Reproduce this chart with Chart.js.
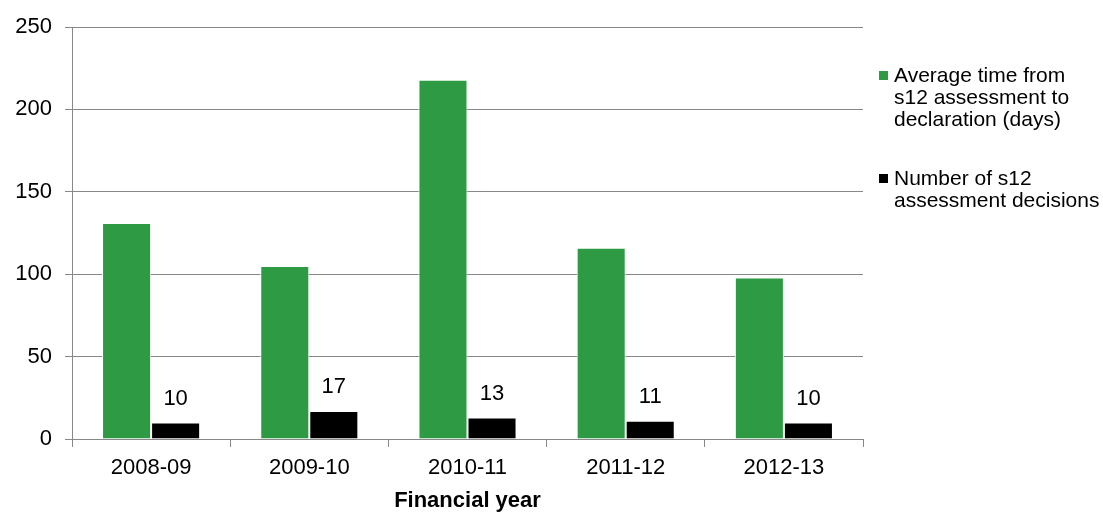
<!DOCTYPE html>
<html>
<head>
<meta charset="utf-8">
<title>s12 assessments by financial year</title>
<script src="https://cdn.jsdelivr.net/npm/chart.js@4/dist/chart.umd.min.js"></script>
<style>
  html, body { margin: 0; padding: 0; background: #fff; }
  #wrap { position: relative; width: 1103px; height: 514px; }
  #legend {
    position: absolute; left: 879px; top: 64px;
    font-family: "Liberation Sans", Arial, sans-serif;
    font-size: 21px; line-height: 22px; color: #000;
  }
  .item { display: flex; align-items: flex-start; margin-bottom: 37px; }
  .swatch { width: 9px; height: 9px; margin: 7px 6px 0 0; flex: none; }
</style>
</head>
<body>
<div id="wrap">
  <canvas id="chart" width="1103" height="514"></canvas>
  <div id="legend"></div>
</div>
<script>
const years = ["2008-09", "2009-10", "2010-11", "2011-12", "2012-13"];
const avgDays = [131, 105, 218, 116, 98];
const decisions = [10, 17, 13, 11, 10];
const yTicks = [0, 50, 100, 150, 200, 250];

const seriesNames = [
  ["Average time from", "s12 assessment to", "declaration (days)"],
  ["Number of s12", "assessment decisions"],
];
const seriesColors = ["#2e9a44", "#000000"];

const FONT = '"Liberation Sans", Arial, sans-serif';
const AXIS_GREY = "#888888";

// numbers above the black bars only
const valueLabels = {
  id: "valueLabels",
  afterDatasetsDraw(chart) {
    const { ctx } = chart;
    const meta = chart.getDatasetMeta(1);
    ctx.save();
    ctx.font = "22px " + FONT;
    ctx.fillStyle = "#000";
    ctx.textAlign = "center";
    ctx.textBaseline = "middle";
    meta.data.forEach((bar, i) => {
      ctx.fillText(String(decisions[i]), bar.x, bar.y - 24);
    });
    ctx.restore();
  },
};

function buildLegend() {
  const el = document.getElementById("legend");
  el.innerHTML = seriesNames
    .map((lines, i) =>
      `<div class="item"><span class="swatch" style="background:${seriesColors[i]}"></span>` +
      `<span>${lines.join("<br>")}</span></div>`)
    .join("");
}

const ctx = document.getElementById("chart").getContext("2d");

new Chart(ctx, {
  type: "bar",
  data: {
    labels: years,
    datasets: [
      {
        label: seriesNames[0].join(" "),
        data: avgDays,
        backgroundColor: seriesColors[0],
        borderColor: "#ffffff",
        borderWidth: 1,
        categoryPercentage: 0.62,
        barPercentage: 1.0,
      },
      {
        label: seriesNames[1].join(" "),
        data: decisions,
        backgroundColor: seriesColors[1],
        borderColor: "#ffffff",
        borderWidth: 1,
        categoryPercentage: 0.62,
        barPercentage: 1.0,
      },
    ],
  },
  options: {
    responsive: false,
    animation: false,
    layout: { padding: { top: 27, right: 240, left: 0, bottom: 0 } },
    plugins: {
      legend: { display: false },
      tooltip: { enabled: false },
    },
    scales: {
      x: {
        offset: true,
        grid: {
          offset: true,
          drawOnChartArea: false,
          tickLength: 8,
          color: AXIS_GREY,
        },
        border: { display: true, color: AXIS_GREY },
        ticks: {
          color: "#000",
          padding: 8,
          font: { family: FONT, size: 22 },
        },
        title: {
          display: true,
          text: "Financial year",
          color: "#000",
          font: { family: FONT, size: 22, weight: "bold" },
          padding: { top: 0, bottom: 0 },
        },
        afterFit(scale) { scale.height = 75; },
      },
      y: {
        min: 0,
        max: 250,
        afterBuildTicks(scale) {
          scale.ticks = yTicks.map((v) => ({ value: v }));
        },
        grid: { color: AXIS_GREY, tickLength: 7 },
        border: { display: true, color: AXIS_GREY },
        ticks: {
          color: "#000",
          padding: 13,
          font: { family: FONT, size: 22 },
        },
        afterFit(scale) { scale.width = 72; },
      },
    },
  },
  plugins: [valueLabels],
});

buildLegend();
</script>
</body>
</html>
